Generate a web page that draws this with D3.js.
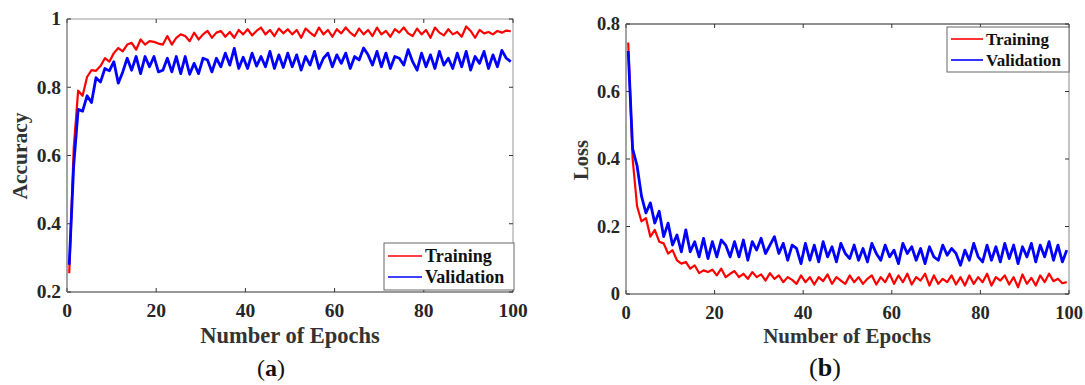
<!DOCTYPE html>
<html>
<head>
<meta charset="utf-8">
<script src="https://cdn.jsdelivr.net/npm/d3@7"></script>
<style>
  html, body { margin: 0; padding: 0; background: #fff; }
  svg { display: block; }
  text { font-family: "Liberation Serif", "Times New Roman", serif; }
</style>
</head>
<body>
<svg id="chart" width="1085" height="385"></svg>
<script>
// ---------------- DATA ----------------
const epochs = d3.range(100).map(i => i + 0.5);

const trainAcc = [0.255,0.62,0.79,0.775,0.83,0.85,0.848,0.862,0.885,0.875,
  0.90,0.915,0.905,0.925,0.93,0.91,0.94,0.925,0.935,0.933,
  0.928,0.925,0.95,0.925,0.945,0.955,0.95,0.935,0.96,0.94,
  0.955,0.965,0.945,0.96,0.965,0.948,0.962,0.945,0.968,0.955,
  0.97,0.952,0.965,0.975,0.955,0.968,0.95,0.972,0.958,0.97,
  0.955,0.968,0.945,0.972,0.96,0.95,0.975,0.955,0.968,0.948,
  0.97,0.958,0.975,0.96,0.95,0.972,0.955,0.968,0.95,0.975,
  0.955,0.965,0.948,0.97,0.96,0.975,0.958,0.95,0.972,0.955,
  0.968,0.945,0.975,0.96,0.952,0.97,0.955,0.962,0.948,0.978,
  0.965,0.945,0.968,0.958,0.962,0.955,0.965,0.96,0.966,0.964];

const valAcc = [0.28,0.57,0.735,0.73,0.775,0.755,0.828,0.815,0.855,0.848,
  0.875,0.812,0.845,0.885,0.85,0.89,0.84,0.89,0.86,0.89,
  0.845,0.85,0.885,0.845,0.89,0.84,0.89,0.838,0.87,0.84,
  0.885,0.88,0.845,0.885,0.86,0.9,0.865,0.914,0.855,0.888,
  0.855,0.9,0.862,0.89,0.86,0.905,0.855,0.895,0.858,0.9,
  0.86,0.895,0.85,0.89,0.865,0.905,0.855,0.885,0.9,0.86,
  0.895,0.87,0.9,0.855,0.89,0.88,0.915,0.895,0.865,0.905,
  0.86,0.9,0.855,0.89,0.885,0.865,0.91,0.875,0.85,0.9,
  0.86,0.895,0.855,0.905,0.865,0.885,0.855,0.9,0.86,0.905,
  0.85,0.89,0.87,0.905,0.855,0.895,0.86,0.908,0.885,0.875];

const trainLoss = [0.745,0.40,0.26,0.215,0.225,0.17,0.19,0.155,0.15,0.12,
  0.13,0.10,0.09,0.095,0.075,0.085,0.062,0.07,0.065,0.072,
  0.055,0.075,0.05,0.06,0.068,0.05,0.06,0.045,0.065,0.05,
  0.058,0.04,0.062,0.045,0.055,0.035,0.05,0.042,0.03,0.055,
  0.035,0.05,0.028,0.05,0.038,0.058,0.03,0.05,0.04,0.03,
  0.055,0.035,0.05,0.03,0.045,0.055,0.028,0.05,0.035,0.06,
  0.03,0.055,0.035,0.06,0.028,0.05,0.04,0.06,0.025,0.055,
  0.03,0.045,0.035,0.055,0.028,0.05,0.025,0.055,0.03,0.05,
  0.035,0.06,0.025,0.05,0.04,0.055,0.028,0.05,0.02,0.058,
  0.03,0.048,0.025,0.055,0.035,0.06,0.038,0.045,0.032,0.035];

const valLoss = [0.72,0.43,0.38,0.29,0.24,0.27,0.21,0.245,0.17,0.21,
  0.145,0.175,0.125,0.19,0.125,0.155,0.11,0.165,0.105,0.155,
  0.11,0.16,0.145,0.11,0.155,0.11,0.16,0.10,0.155,0.13,
  0.165,0.12,0.145,0.17,0.12,0.15,0.10,0.145,0.135,0.09,
  0.15,0.10,0.145,0.095,0.155,0.11,0.14,0.095,0.15,0.12,
  0.105,0.145,0.10,0.135,0.095,0.15,0.12,0.10,0.145,0.11,
  0.13,0.09,0.15,0.12,0.14,0.10,0.135,0.09,0.14,0.11,
  0.10,0.145,0.115,0.135,0.12,0.085,0.13,0.10,0.15,0.11,
  0.095,0.145,0.10,0.14,0.095,0.15,0.105,0.145,0.09,0.14,
  0.11,0.15,0.095,0.145,0.11,0.155,0.10,0.145,0.095,0.13];

const xTicks = [0, 20, 40, 60, 80, 100];
const accTicks = [0.2, 0.4, 0.6, 0.8, 1];
const lossTicks = [0, 0.2, 0.4, 0.6, 0.8];
const seriesNames = ["Training", "Validation"];
const seriesColors = ["#ff0000", "#0000ff"];

// ---------------- DRAW ----------------
const svg = d3.select("#chart");

function panel(cfg) {
  const g = svg.append("g");
  const x = d3.scaleLinear().domain([0, 100]).range([cfg.left, cfg.right]);
  const y = d3.scaleLinear().domain(cfg.yDomain).range([cfg.bottom, cfg.top]);
  const tl = 4;

  // frame
  g.append("line").attr("x1", cfg.left).attr("x2", cfg.right).attr("y1", cfg.top).attr("y2", cfg.top)
    .attr("stroke", cfg.topColor).attr("stroke-width", 1);
  g.append("line").attr("x1", cfg.right).attr("x2", cfg.right).attr("y1", cfg.top).attr("y2", cfg.bottom)
    .attr("stroke", cfg.rightColor).attr("stroke-width", 1);

  // ticks
  xTicks.forEach(t => {
    g.append("line").attr("x1", x(t)).attr("x2", x(t)).attr("y1", cfg.bottom).attr("y2", cfg.bottom - tl)
      .attr("stroke", "#333");
    g.append("line").attr("x1", x(t)).attr("x2", x(t)).attr("y1", cfg.top).attr("y2", cfg.top + tl)
      .attr("stroke", "#333");
    g.append("text").attr("x", x(t)).attr("y", cfg.bottom + 25).attr("text-anchor", "middle")
      .attr("font-size", cfg.tickFs).attr("font-weight", "bold").attr("fill", "#262626").text(t);
  });
  cfg.yTicks.forEach(t => {
    g.append("line").attr("x1", cfg.left).attr("x2", cfg.left + tl).attr("y1", y(t)).attr("y2", y(t))
      .attr("stroke", "#333");
    g.append("line").attr("x1", cfg.right).attr("x2", cfg.right - tl).attr("y1", y(t)).attr("y2", y(t))
      .attr("stroke", "#333");
    g.append("text").attr("x", cfg.left - 6).attr("y", y(t)).attr("dy", "0.33em").attr("text-anchor", "end")
      .attr("font-size", cfg.tickFs).attr("font-weight", "bold").attr("fill", "#262626").text(String(t));
  });

  // series
  const line = d3.line().x((d, i) => x(epochs[i])).y(d => y(d));
  cfg.series.forEach((s, k) => {
    g.append("path").datum(s).attr("d", line).attr("fill", "none")
      .attr("stroke", seriesColors[k]).attr("stroke-width", k === 0 ? 2.2 : 2.8)
      .attr("stroke-linejoin", "round");
  });

  // axes lines (bottom & left) drawn over
  g.append("line").attr("x1", cfg.left).attr("x2", cfg.right).attr("y1", cfg.bottom).attr("y2", cfg.bottom)
    .attr("stroke", "#333").attr("stroke-width", 1.2);
  g.append("line").attr("x1", cfg.left).attr("x2", cfg.left).attr("y1", cfg.top).attr("y2", cfg.bottom)
    .attr("stroke", "#666").attr("stroke-width", 1.2);

  // axis titles
  g.append("text").attr("x", cfg.xTitleX).attr("y", 343).attr("text-anchor", "middle")
    .attr("font-size", cfg.titleFs).attr("font-weight", "bold").attr("fill", "#333").text("Number of Epochs");
  g.append("text").attr("transform", `translate(${cfg.yTitleX},${cfg.yTitleY}) rotate(-90)`)
    .attr("text-anchor", "middle").attr("font-size", cfg.yTitleFs).attr("font-weight", "bold")
    .attr("fill", "#333").text(cfg.yTitle);

  // legend
  const L = cfg.legend;
  g.append("rect").attr("x", L.x).attr("y", L.y).attr("width", L.w).attr("height", L.h)
    .attr("fill", "#fff").attr("stroke", "#666").attr("stroke-width", 1);
  seriesNames.forEach((n, k) => {
    const ly = L.y + L.row0 + k * L.dy;
    g.append("line").attr("x1", L.x + 4).attr("x2", L.x + 4 + L.lineLen).attr("y1", ly).attr("y2", ly)
      .attr("stroke", seriesColors[k]).attr("stroke-width", 1.6);
    g.append("text").attr("x", L.x + 7 + L.lineLen).attr("y", ly).attr("dy", "0.33em")
      .attr("font-size", L.fs).attr("font-weight", "bold").attr("fill", "#111").text(n);
  });

  // caption
  const cap = g.append("text").attr("x", cfg.capX).attr("y", 376).attr("text-anchor", "middle")
    .attr("font-size", cfg.capFs).attr("fill", "#111");
  cap.append("tspan").text("(");
  cap.append("tspan").attr("font-weight", "bold").text(cfg.capLetter);
  cap.append("tspan").text(")");
}

panel({
  left: 67, right: 513, top: 19, bottom: 292,
  yDomain: [0.2, 1], yTicks: accTicks,
  series: [trainAcc, valAcc],
  topColor: "#999", rightColor: "#999",
  tickFs: 19.5, titleFs: 22.5, yTitleFs: 21.5,
  xTitleX: 290, yTitleX: 27, yTitleY: 156, yTitle: "Accuracy",
  legend: { x: 384, y: 243, w: 130, h: 47, row0: 13, dy: 21, lineLen: 34, fs: 18 },
  capX: 271, capFs: 24, capLetter: "a"
});

panel({
  left: 626, right: 1069, top: 24, bottom: 294,
  yDomain: [0, 0.8], yTicks: lossTicks,
  series: [trainLoss, valLoss],
  topColor: "#222", rightColor: "#888",
  tickFs: 18.5, titleFs: 21, yTitleFs: 20.5,
  xTitleX: 847, yTitleX: 588, yTitleY: 160, yTitle: "Loss",
  legend: { x: 947, y: 27, w: 122, h: 45, row0: 12, dy: 21, lineLen: 32, fs: 17 },
  capX: 825, capFs: 26, capLetter: "b"
});
</script>
</body>
</html>
